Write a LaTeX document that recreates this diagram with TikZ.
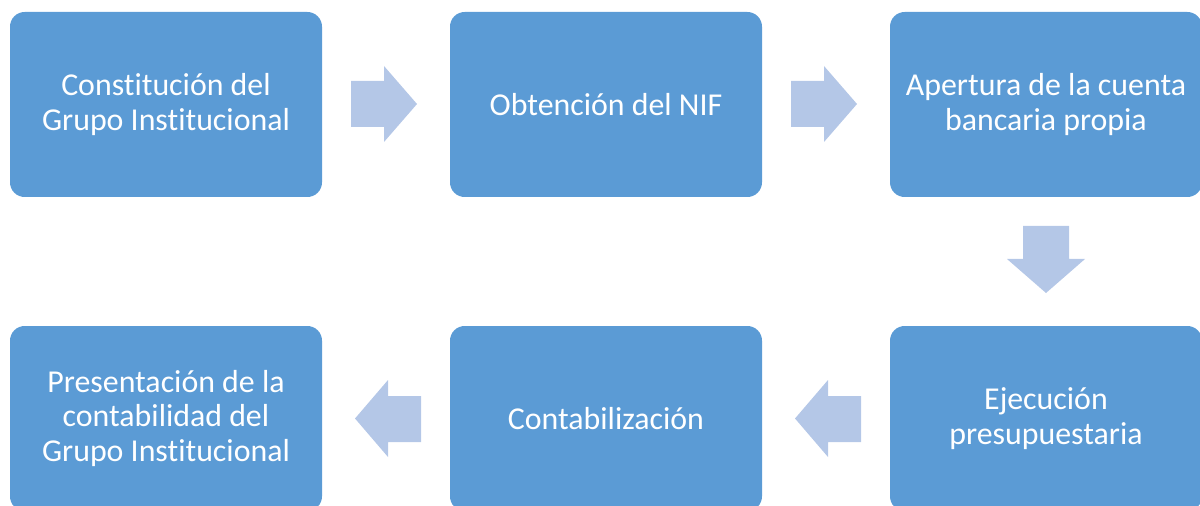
\documentclass[tikz,border=0pt]{standalone}
\usepackage{fontspec}
\setmainfont[Ligatures=NoCommon]{Carlito}
\definecolor{boxblue}{HTML}{5B9BD5}
\definecolor{arrowblue}{HTML}{B4C7E7}
\begin{document}
\begin{tikzpicture}[x=0.75pt,y=-0.75pt,
  stepbox/.style={rectangle,rounded corners=11pt,fill=boxblue,text=white,
    minimum width=234pt,minimum height=138.75pt,align=center,inner sep=0pt,
    font=\fontsize{23.9}{26.2}\selectfont},
  blockarrow/.style={fill=arrowblue,draw=none}]
\useasboundingbox (0,0) rectangle (1200,506);
\clip (0,0) rectangle (1200,506);
\node[stepbox] (b1) at (166,104.5) {Constitución del\\Grupo Institucional};
\node[stepbox] (b2) at (606,104.5) {Obtención del NIF};
\node[stepbox] (b3) at (1046,104.5) {Apertura de la cuenta\\bancaria propia};
\node[stepbox] (b4) at (1046,418.5) {Ejecución\\presupuestaria};
\node[stepbox] (b5) at (606,418.5) {Contabilización};
\node[stepbox] (b6) at (166,418.5) {Presentación de la\\contabilidad del\\Grupo Institucional};
% arrows
\fill[blockarrow] (351,81) -- (384,81) -- (384,66) -- (417,104) -- (384,142) -- (384,127) -- (351,127) -- cycle;
\fill[blockarrow] (791,81) -- (824,81) -- (824,66) -- (857,104) -- (824,142) -- (824,127) -- (791,127) -- cycle;
\fill[blockarrow] (1023,226) -- (1069,226) -- (1069,259) -- (1085,259) -- (1046,293) -- (1007,259) -- (1023,259) -- cycle;
\fill[blockarrow] (861,396) -- (828,396) -- (828,380) -- (795,418.5) -- (828,457) -- (828,442) -- (861,442) -- cycle;
\fill[blockarrow] (421,396) -- (388,396) -- (388,380) -- (355,418.5) -- (388,457) -- (388,442) -- (421,442) -- cycle;
\end{tikzpicture}
\end{document}
